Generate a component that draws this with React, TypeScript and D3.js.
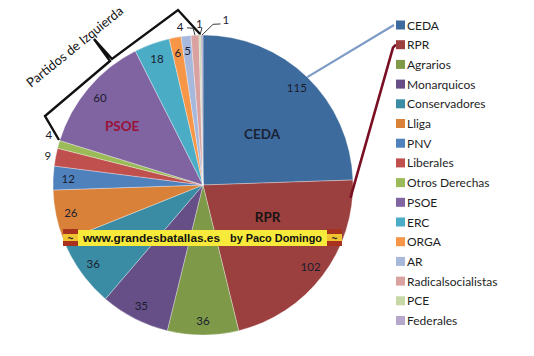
import React from "react";
import * as d3 from "d3";

const categories = [
  "CEDA", "RPR", "Agrarios", "Monarquicos", "Conservadores", "Lliga", "PNV",
  "Liberales", "Otros Derechas", "PSOE", "ERC", "ORGA", "AR",
  "Radicalsocialistas", "PCE", "Federales",
];
const seats = [115, 102, 36, 35, 36, 26, 12, 9, 4, 60, 18, 6, 5, 4, 1, 1];
const colors = [
  "#3e6b9e", "#9b403e", "#7e9a49", "#664e87", "#3a8ca4", "#d98139", "#4f81bd",
  "#c0504d", "#9bbb59", "#8064a2", "#4bacc6", "#f79646", "#a6b8dc",
  "#d9a2a1", "#c6d8a6", "#b5a8cc",
];
const bracketTitle = "Partidos de Izquierda";
const bannerSite = "www.grandesbatallas.es";
const bannerAuthor = "by Paco Domingo";

// layout / style (polar positions: angle in degrees clockwise from 12 o'clock, radius px)
const W = 534, H = 356;
const CX = 203, CY = 185, R = 150;
const FONT = "Lato, 'Open Sans', sans-serif";

const outsideLabels: Record<string, { a: number; r: number; leader?: [number, number][] }> = {
  "Liberales": { a: 280.7, r: 158 },
  "Otros Derechas": { a: 288, r: 162 },
  "Radicalsocialistas": { a: 351.8, r: 160, leader: [[356.4, 157], [354.2, 158]] },
  "PCE": { a: 358.7, r: 162, leader: [[359.6, 157]] },
  "Federales": { a: 7.9, r: 167, leader: [[3.6, 161], [6.2, 162]] },
};
const bigLabels: { name: string; a: number; r: number; color: string }[] = [
  { name: "CEDA", a: 49.2, r: 78, color: "#1a2236" },
  { name: "RPR", a: 116.2, r: 72, color: "#1a1414" },
  { name: "PSOE", a: 306, r: 100, color: "#9a1238" },
];

function polar(aDeg: number, r: number): [number, number] {
  const a = (aDeg * Math.PI) / 180;
  return [CX + r * Math.sin(a), CY - r * Math.cos(a)];
}

export default function App() {
  const data = categories.map((c, i) => ({ name: c, value: seats[i], color: colors[i] }));
  const pie = d3.pie<any>().sort(null).value((d) => d.value).startAngle(0).endAngle(2 * Math.PI);
  const arcs = pie(data);
  const arc = d3.arc<any>().innerRadius(0).outerRadius(R);
  const labelArc = d3.arc<any>().innerRadius(R * 0.9).outerRadius(R * 0.9);
  const toDeg = (rad: number) => (rad * 180) / Math.PI;

  const legendX = 396, legendY0 = 25, legendStep = 19.7, sw = 9;
  const legendY = (i: number) => legendY0 + i * legendStep;

  const midDeg = (i: number) => toDeg((arcs[i].startAngle + arcs[i].endAngle) / 2);

  const cedaStart = polar(midDeg(0), R);
  const rprStart = polar(95, R - 2);

  const bracket: [number, number][] = [
    [59, 140], [45, 116], [110, 61], [94, 39], [112, 59], [178, 10], [200, 34],
  ];

  const bx0 = 63, bx1 = 342, by0 = 230, by1 = 246, cap = 15;

  return (
    <svg width={W} height={H} style={{ position: "absolute", left: 0, top: 0, background: "#fff" }}>
      <g transform={`translate(${CX},${CY})`}>
        {arcs.map((a, i) => (
          <path key={i} d={arc(a) as string} fill={a.data.color} stroke="#ffffff" strokeOpacity={0.45} strokeWidth={0.7} />
        ))}
      </g>

      {arcs.map((a, i) => {
        if (outsideLabels[a.data.name]) return null;
        const [x, y] = labelArc.centroid(a);
        return (
          <text key={i} x={CX + x} y={CY + y} textAnchor="middle" dominantBaseline="central"
            fontFamily={FONT} fontSize={11.5} fill="#1b1d2e">{a.data.value}</text>
        );
      })}

      {arcs.map((a, i) => {
        const o = outsideLabels[a.data.name];
        if (!o) return null;
        const [x, y] = polar(o.a, o.r);
        let leader = null;
        if (o.leader) {
          const pts = [polar(midDeg(i), R), ...o.leader.map(([aa, rr]) => polar(aa, rr))];
          leader = <polyline points={pts.map((p) => p.join(",")).join(" ")} fill="none" stroke="#222" strokeWidth={0.9} />;
        }
        return (
          <g key={i}>
            {leader}
            <text x={x} y={y} textAnchor="middle" dominantBaseline="central" fontFamily={FONT} fontSize={11.5} fill="#1b1d2e">{a.data.value}</text>
          </g>
        );
      })}

      {bigLabels.map((b) => {
        const [x, y] = polar(b.a, b.r);
        return (
          <text key={b.name} x={x} y={y} textAnchor="middle" dominantBaseline="central" fontFamily={FONT}
            fontWeight="bold" fontSize={13.5} fill={b.color}>{b.name}</text>
        );
      })}

      <line x1={cedaStart[0]} y1={cedaStart[1]} x2={legendX - 2} y2={legendY(0)} stroke="#7d9bc6" strokeWidth={2.2} />
      <polyline points={`${rprStart[0]},${rprStart[1]} ${legendX - 3},${legendY(1) + 3} ${legendX},${legendY(1)}`}
        fill="none" stroke="#7a0f24" strokeWidth={2.6} />

      {data.map((d, i) => (
        <g key={d.name}>
          <rect x={legendX} y={legendY(i) - sw / 2} width={sw} height={sw} fill={d.color} />
          <text x={legendX + sw + 2} y={legendY(i)} dominantBaseline="central" fontFamily={FONT} fontSize={12} fill="#1e1e1e">{d.name}</text>
        </g>
      ))}

      <polyline points={bracket.map((p) => p.join(",")).join(" ")} fill="none" stroke="#111" strokeWidth={2.4} strokeLinejoin="miter" />
      <text transform="translate(31,88) rotate(-39)" fontFamily={FONT} fontSize={13} fill="#111">{bracketTitle}</text>

      <rect x={bx0} y={by0} width={bx1 - bx0} height={by1 - by0} fill="#f7ea3a" />
      {[bx0, bx1 - cap].map((x, k) => (
        <g key={k}>
          <rect x={x} y={by0 - 1} width={cap} height={5} fill="#a8321e" />
          <rect x={x} y={by0 + 4} width={cap} height={7} fill="#f1c232" />
          <rect x={x} y={by0 + 11} width={cap} height={5} fill="#a8321e" />
          <text x={x + cap / 2} y={by0 + 8.5} textAnchor="middle" dominantBaseline="central" fontFamily="'Liberation Sans', Arial, sans-serif" fontSize={10} fontWeight="bold" fill="#222">~</text>
        </g>
      ))}
      <text x={83} y={by0 + 8} dominantBaseline="central" fontFamily="'Liberation Sans', Arial, sans-serif" fontWeight="bold"
        fontSize={11.5} textLength={137} lengthAdjust="spacingAndGlyphs" fill="#111">{bannerSite}</text>
      <text x={230} y={by0 + 8} dominantBaseline="central" fontFamily="'Liberation Sans', Arial, sans-serif" fontWeight="bold"
        fontSize={11.5} textLength={92} lengthAdjust="spacingAndGlyphs" fill="#111">{bannerAuthor}</text>
    </svg>
  );
}
